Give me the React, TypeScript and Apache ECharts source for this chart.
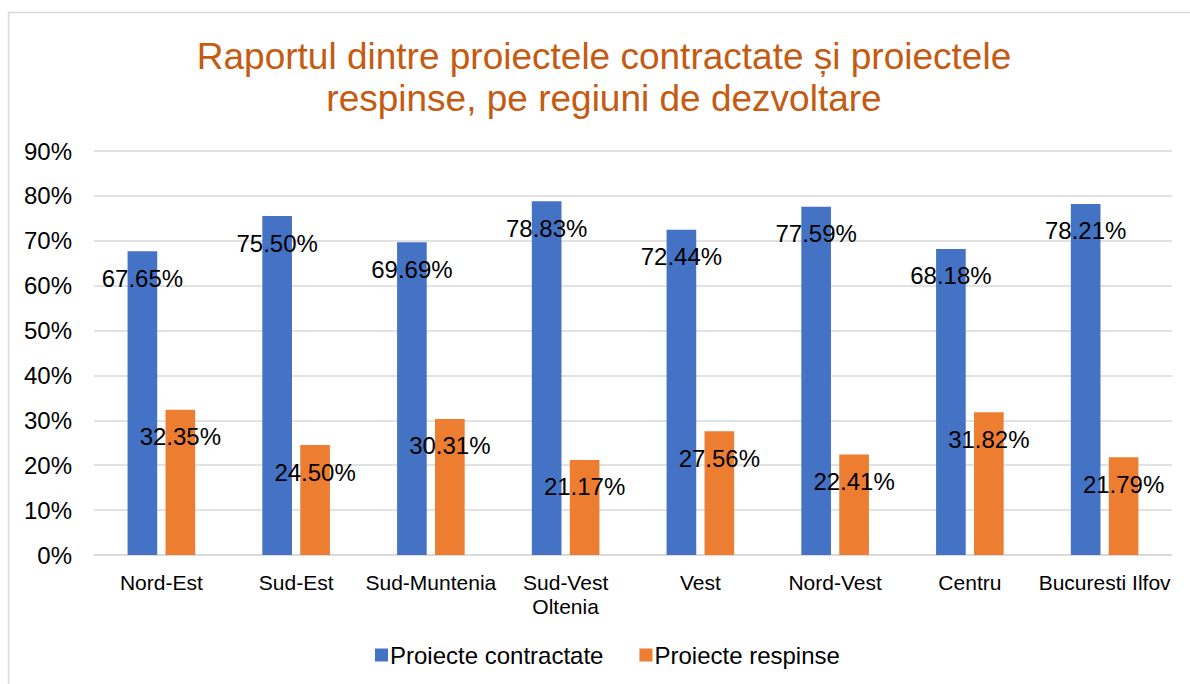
import React, { useEffect, useRef } from "react";
import * as echarts from "echarts";

const categories = ["Nord-Est", "Sud-Est", "Sud-Muntenia", "Sud-Vest\nOltenia", "Vest", "Nord-Vest", "Centru", "Bucuresti Ilfov"];
const contractate = [67.65, 75.5, 69.69, 78.83, 72.44, 77.59, 68.18, 78.21];
const respinse = [32.35, 24.5, 30.31, 21.17, 27.56, 22.41, 31.82, 21.79];
const seriesNames = ["Proiecte contractate", "Proiecte respinse"];
const titleText = "Raportul dintre proiectele contractate și proiectele\nrespinse, pe regiuni de dezvoltare";

const FONT = "'Liberation Sans', Arial, sans-serif";

export default function App() {
  const ref = useRef<HTMLDivElement>(null);
  useEffect(() => {
    if (!ref.current) return;
    const chart = echarts.init(ref.current, undefined, { renderer: "svg" });
    const label = {
      show: true,
      position: "insideTop",
      distance: 15,
      color: "#000",
      fontSize: 24,
      lineHeight: 24,
      fontFamily: FONT,
      formatter: (p: any) => p.value.toFixed(2) + "%",
    };
    chart.setOption({
      animation: false,
      textStyle: { fontFamily: FONT },
      title: {
        text: titleText,
        left: 604,
        top: 35,
        padding: 0,
        textAlign: "center",
        textStyle: { color: "#c55a11", fontSize: 37, fontWeight: "normal", lineHeight: 42, fontFamily: FONT },
      },
      graphic: [
        {
          type: "rect",
          shape: { x: 8.5, y: 12.5, width: 1300, height: 800 },
          style: { fill: "none", stroke: "#d9d9d9", lineWidth: 1.5 },
          silent: true,
        },
      ],
      legend: {
        data: seriesNames,
        left: 375,
        top: 643,
        itemWidth: 13,
        itemHeight: 13,
        itemGap: 36,
        padding: 0,
        icon: "rect",
        textStyle: { fontSize: 24, color: "#000", fontFamily: FONT, padding: [0, 0, 0, -3] },
      },
      grid: { left: 94, right: 18, top: 151, bottom: 129, containLabel: false },
      xAxis: {
        type: "category",
        data: categories,
        axisTick: { show: false },
        axisLine: { lineStyle: { color: "#d9d9d9", width: 1.5 } },
        axisLabel: { color: "#000", fontSize: 21, lineHeight: 24, margin: 15, fontFamily: FONT, interval: 0 },
      },
      yAxis: {
        type: "value",
        min: 0,
        max: 90,
        interval: 10,
        axisLine: { show: false },
        axisTick: { show: false },
        splitLine: { lineStyle: { color: "#d9d9d9", width: 1.5 } },
        axisLabel: { color: "#000", fontSize: 24, margin: 22, fontFamily: FONT, formatter: "{value}%" },
      },
      series: [
        {
          name: seriesNames[0],
          type: "bar",
          data: contractate,
          barWidth: "22%",
          barGap: "28%",
          itemStyle: { color: "#4472c4" },
          label,
        },
        {
          name: seriesNames[1],
          type: "bar",
          data: respinse,
          barWidth: "22%",
          barGap: "28%",
          itemStyle: { color: "#ed7d31" },
          label,
        },
      ],
    });
    return () => chart.dispose();
  }, []);
  return (
    <div
      ref={ref}
      style={{ position: "absolute", left: 0, top: 0, width: 1190, height: 684, background: "#fff" }}
    />
  );
}
